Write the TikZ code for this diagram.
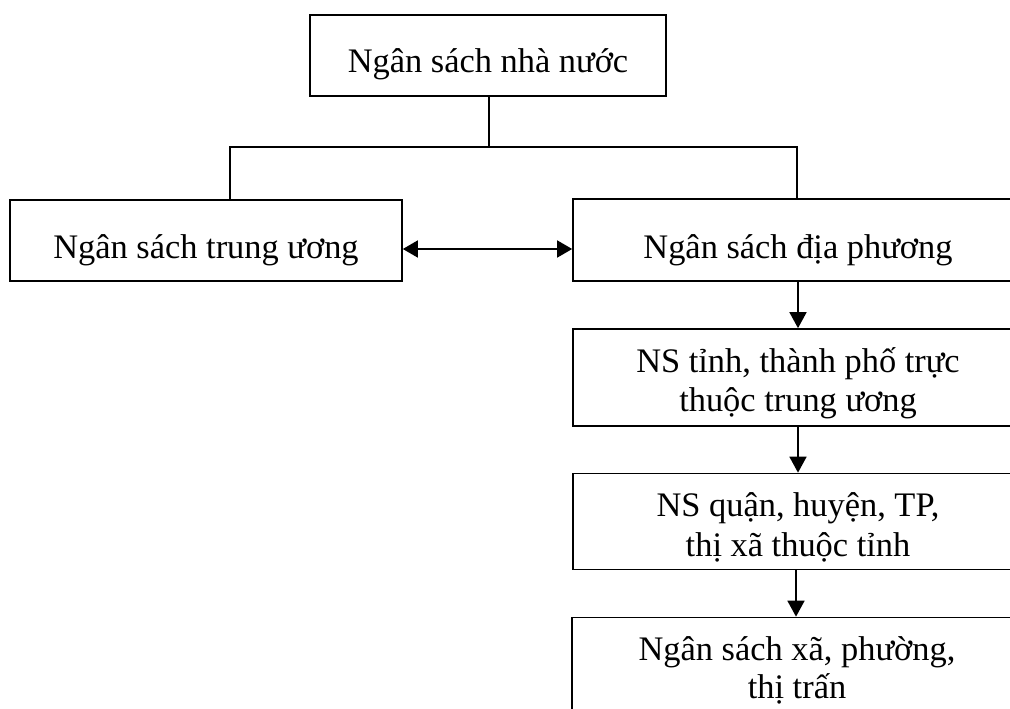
\documentclass[tikz,border=0pt]{standalone}
\usepackage{fontspec}
\setmainfont{Liberation Serif}
\usetikzlibrary{arrows.meta}
\tikzset{
  box/.style={draw, line width=1.7pt, rectangle, inner sep=0pt},
  lbl/.style={inner sep=0pt, anchor=base, font=\fontsize{34.4}{40}\selectfont},
  link/.style={line width=1.7pt},
  arr/.style={line width=1.7pt, -{Triangle[length=16pt,width=17pt]}},
  darr/.style={line width=1.7pt, {Triangle[length=15pt,width=17pt]}-{Triangle[length=15pt,width=17pt]}}
}
\begin{document}
\begin{tikzpicture}[x=1pt,y=-1pt]
\useasboundingbox (0,0) rectangle (1010,709);
\clip (0,0) rectangle (1010,709);
% boxes
\node[box, minimum width=356pt, minimum height=81pt] (top) at (488,55.5) {};
\node[box, minimum width=392pt, minimum height=81pt] (left) at (206,240.5) {};
\node[box, minimum width=450pt, minimum height=82pt] (right) at (798,240) {};
\node[box, minimum width=450pt, minimum height=97pt] (b2) at (798,377.5) {};
\node[box, minimum width=450pt, minimum height=96pt] (b3) at (798,521.5) {};
\node[box, minimum width=450pt, minimum height=120pt] (b4) at (797,677.5) {};
% labels
\node[lbl] (ttop) at (488,73) {Ngân sách nhà nước};
\node[lbl] (tleft) at (206,258) {Ngân sách trung ương};
\node[lbl] (tright) at (798,258) {Ngân sách địa phương};
\begin{scope}
\clip (573,329) rectangle (1010,418);
\node[lbl] (tb2a) at (798,372) {NS tỉnh, thành phố trực};
\node[lbl] (tb2b) at (798,411.5) {thuộc trung ương};
\end{scope}
\node[lbl] (tb3a) at (798,516.5) {NS quận, huyện, TP,};
\node[lbl] (tb3b) at (798,556) {thị xã thuộc tỉnh};
\node[lbl] (tb4a) at (797,660) {Ngân sách xã, phường,};
\node[lbl] (tb4b) at (797,698.5) {thị trấn};
% connectors
\coordinate (jm) at (489,147);
\coordinate (jl) at (230,147);
\coordinate (jr) at (797,147);
\coordinate (lt) at (230,200);
\draw[link] (top.south -| jm) -- (jm);
\draw[link] (lt) -- (jl) -- (jr) -- (right.north -| jr);
\draw[darr] (left.east |- 0,249) -- (right.west |- 0,249);
\draw[arr] (right.south -| 798,0) -- (b2.north -| 798,0);
\draw[arr] (b2.south -| 798,0) -- (b3.north -| 798,0);
\draw[arr] (b3.south -| 796,0) -- (b4.north -| 796,0);
\end{tikzpicture}
\end{document}
